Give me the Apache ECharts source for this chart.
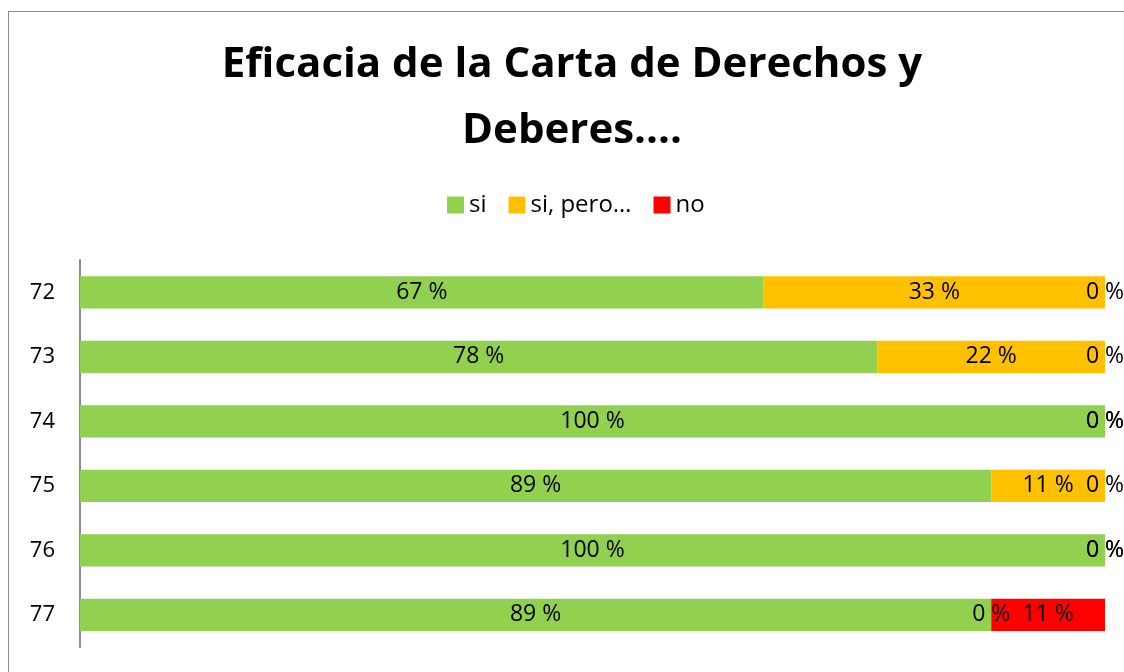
<!DOCTYPE html>
<html>
<head>
<meta charset="utf-8">
<script src="https://cdn.jsdelivr.net/npm/echarts@6/dist/echarts.min.js"></script>
<style>
  html, body { margin: 0; padding: 0; background: #fff; overflow: hidden; }
  #frame { position: absolute; left: 8px; top: 11px; width: 1140px; height: 700px; border: 1px solid #8c8c8c; }
  #chart { position: absolute; left: 0; top: 0; width: 1124px; height: 672px; }
</style>
</head>
<body>
<div id="frame"></div>
<div id="chart"></div>
<script>
// rows, top to bottom
const categories = ["72", "73", "74", "75", "76", "77"];
const siValues = [66.7, 77.8, 100, 88.9, 100, 88.9];
const siPeroValues = [33.3, 22.2, 0, 11.1, 0, 0];
const noValues = [0, 0, 0, 0, 0, 11.1];
const seriesNames = ["si", "si, pero…", "no"];
const seriesColors = ["#92D050", "#FFC000", "#FF0000"];

const chart = echarts.init(document.getElementById("chart"), null, { renderer: "canvas" });

const font = "'Open Sans', sans-serif";

const label = {
  show: true,
  position: "inside",
  color: "#000",
  fontFamily: font,
  fontSize: 23,
  formatter: (p) => Math.round(p.value) + " %",
};

const option = {
  animation: false,
  backgroundColor: "transparent",
  title: {
    text: "Eficacia de la Carta de Derechos y\nDeberes....",
    left: 572,
    top: 32,
    textAlign: "center",
    padding: 0,
    textStyle: {
      fontFamily: font,
      fontWeight: "bold",
      fontSize: 42,
      lineHeight: 66,
      color: "#000",
    },
  },
  legend: {
    top: 193,
    left: 447,
    padding: 0,
    itemWidth: 17,
    itemHeight: 17,
    itemGap: 22,
    icon: "rect",
    textStyle: { fontFamily: font, fontSize: 24, color: "#000" },
    data: seriesNames,
  },
  grid: { left: 80, right: 19, top: 260, bottom: 25, containLabel: false },
  xAxis: {
    type: "value",
    min: 0,
    max: 100,
    show: false,
  },
  yAxis: {
    type: "category",
    inverse: true,
    data: categories,
    axisLine: { show: true, lineStyle: { color: "#8c8c8c", width: 2 } },
    axisTick: { show: false },
    axisLabel: { fontFamily: font, fontSize: 22, color: "#000", margin: 25 },
  },
  series: [siValues, siPeroValues, noValues].map((vals, i) => ({
    name: seriesNames[i],
    type: "bar",
    stack: "total",
    barWidth: "50%",
    data: vals,
    itemStyle: { color: seriesColors[i] },
    label: label,
  })),
};

chart.setOption(option);
</script>
</body>
</html>
